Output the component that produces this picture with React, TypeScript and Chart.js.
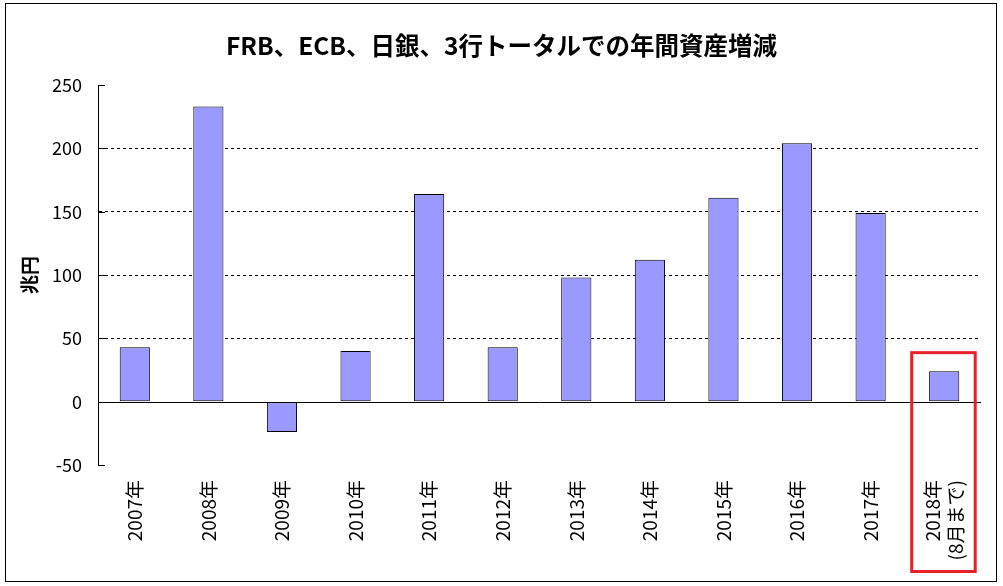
import React, { useEffect, useRef } from 'react';
import { Chart, registerables } from 'chart.js';

Chart.register(...registerables);

const categories: (string | string[])[] = [
  '2007年', '2008年', '2009年', '2010年', '2011年', '2012年',
  '2013年', '2014年', '2015年', '2016年', '2017年', ['2018年', '(8月まで)'],
];
const values = [43, 233, -24, 40, 164, 43, 98, 112, 161, 204, 149, 24];
const yMin = -50;
const yMax = 250;
const yStep = 50;
const chartTitle = 'FRB、ECB、日銀、3行トータルでの年間資産増減';
const yAxisTitle = '兆円';
const highlightIndex = 11;

const FONT = "'Noto Sans CJK JP', 'Noto Sans', sans-serif";
const W = 1003;
const H = 586;
const X_FONT_SIZE = 19;

const decorPlugin = {
  id: 'decor',
  beforeDraw(chart: any) {
    // centre the two-line label on its category
    const x = chart.scales.x;
    const items = x.getLabelItems(chart.chartArea);
    items.forEach((it: any) => {
      if (Array.isArray(it.label) && !it._shifted) {
        it.options.translation[0] -= (X_FONT_SIZE * 1.2) / 2;
        it._shifted = true;
      }
    });
  },
  afterDatasetsDraw(chart: any) {
    const { ctx, chartArea, scales } = chart;
    const y = scales.y;
    const x = scales.x;
    ctx.save();
    // zero axis line
    const y0 = Math.round(y.getPixelForValue(0)) + 0.5;
    ctx.strokeStyle = '#000';
    ctx.lineWidth = 1;
    ctx.setLineDash([]);
    ctx.beginPath();
    ctx.moveTo(chartArea.left, y0);
    ctx.lineTo(chartArea.right, y0);
    ctx.stroke();
    // inside tick marks on value axis
    for (let v = yMin; v <= yMax; v += yStep) {
      if (v === 0) continue;
      const py = Math.round(y.getPixelForValue(v)) + 0.5;
      ctx.beginPath();
      ctx.moveTo(chartArea.left, py);
      ctx.lineTo(chartArea.left + 7, py);
      ctx.stroke();
    }
    // red highlight box around last category
    const cx = x.getPixelForValue(highlightIndex);
    const top = y.getPixelForValue(0) - 49;
    ctx.strokeStyle = '#e8202a';
    ctx.lineWidth = 3;
    ctx.strokeRect(cx - 32.5, top, 63.5, H - 14.5 - top);
    // outer frame
    ctx.strokeStyle = '#000';
    ctx.lineWidth = 1;
    ctx.strokeRect(5.5, 3.5, 991, 578);
    ctx.restore();
  },
};

export default function App() {
  const ref = useRef<HTMLCanvasElement | null>(null);
  useEffect(() => {
    document.body.style.margin = '0';
    if (!ref.current) return;
    const chart = new Chart(ref.current, {
      type: 'bar',
      data: {
        labels: categories as any,
        datasets: [
          {
            data: values,
            backgroundColor: '#9999ff',
            borderColor: '#000000',
            borderWidth: 1,
            borderSkipped: false,
            barPercentage: 0.41,
            categoryPercentage: 1,
          },
        ],
      },
      options: {
        responsive: false,
        animation: false,
        devicePixelRatio: 1,
        layout: { padding: 0 },
        plugins: {
          legend: { display: false },
          tooltip: { enabled: false },
          title: {
            display: true,
            text: chartTitle,
            color: '#000',
            font: { family: FONT, size: 24.5, weight: 'bold', lineHeight: 1.2 },
            padding: { top: 31, bottom: 24.6 },
          },
        },
        scales: {
          x: {
            grid: { display: false, drawTicks: false },
            border: { display: false },
            ticks: {
              autoSkip: false,
              maxRotation: 90,
              minRotation: 90,
              padding: 15,
              color: '#000',
              font: { family: FONT, size: X_FONT_SIZE, lineHeight: 1.2 },
            },
            afterFit(scale: any) {
              scale.height = 121;
              scale.paddingLeft = 0;
              scale.paddingRight = 22;
            },
          },
          y: {
            min: yMin,
            max: yMax,
            ticks: {
              stepSize: yStep,
              padding: 16,
              color: '#000',
              font: { family: FONT, size: 18 },
            },
            grid: {
              drawTicks: false,
              color: (c: any) => {
                const v = c.tick ? c.tick.value : null;
                return v === 0 || v === yMin || v === yMax ? 'rgba(0,0,0,0)' : '#000';
              },
              lineWidth: 1,
            },
            border: { display: true, color: '#000', width: 1, dash: [3, 3] },
            title: {
              display: true,
              text: yAxisTitle,
              color: '#000',
              font: { family: FONT, size: 19, weight: 'bold', lineHeight: 1.2 },
              padding: { top: 18, bottom: 0 },
            },
            afterFit(scale: any) {
              scale.width = 98;
            },
          },
        },
      },
      plugins: [decorPlugin],
    });
    return () => chart.destroy();
  }, []);
  return (
    <div style={{ width: W, height: H, background: '#fff' }}>
      <canvas ref={ref} width={W} height={H} style={{ display: 'block' }} />
    </div>
  );
}
